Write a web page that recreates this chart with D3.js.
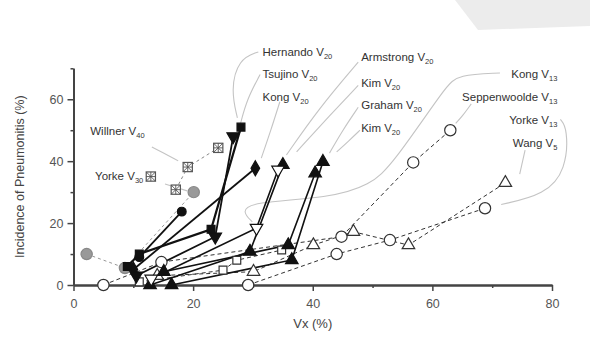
<!DOCTYPE html>
<html><head><meta charset="utf-8">
<script src="https://cdn.jsdelivr.net/npm/d3@7"></script>
<style>
body{margin:0;background:#fff}
svg{display:block}
text{font-family:"Liberation Sans",Arial,sans-serif}
</style>
</head><body>
<svg id="c" width="590" height="355"></svg>
<script>
// ---------- data (x = Vx %, y = incidence %) ----------
const xTicks = [0, 20, 40, 60, 80];
const yTicks = [0, 20, 40, 60];
const xMinor = [10, 30, 50, 70];
const yMinor = [10, 30, 50, 70];

const hernandoV20 = [[9, 6], [11, 10], [23, 18], [28, 51]];
const tsujinoV20 = [[10.5, 3], [23.7, 15.6], [26.7, 48]];
const kongV20 = [[10, 5], [30.4, 37.7]];
const filledCircleV20 = [[11, 9], [18.1, 23.7]];
const armstrongV20 = [[13, 2], [30.6, 18.4], [34.2, 37.2]];
const kimV20a = [[12.8, 0], [29.5, 10.8], [35, 38.8]];
const grahamV20 = [[15.1, 4.3], [35.9, 12.9], [40.4, 36.1]];
const kimV20b = [[16.4, 0], [36.5, 8.1], [41.7, 39.8]];

const kongV13 = [[5, 0], [14.7, 7.4], [44.8, 15.6], [56.8, 39.6], [63, 50]];
const seppenwooldeV13 = [[11, 1], [25, 4.8], [27.3, 8], [34.8, 11.3]];
const yorkeV13 = [[14, 3], [30.1, 4.3], [40.1, 12.9], [46.8, 17.2], [56, 12.9], [72.2, 33]];
const wangV5 = [[29.2, 0], [44, 10], [52.9, 14.5], [68.8, 24.8]];

const willnerV40 = [[17.1, 30.8], [19.1, 38.1], [24.2, 44.3]];
const yorkeV30 = [[2.2, 10], [8.6, 5.5], [20.1, 30]];

// label texts
const labelMain = ["Hernando V", "Tsujino V", "Kong V", "Armstrong V", "Kim V", "Graham V", "Kim V",
                   "Kong V", "Seppenwoolde V", "Yorke V", "Wang V", "Willner V", "Yorke V"];
const labelSub = ["20", "20", "20", "20", "20", "20", "20", "13", "13", "13", "5", "40", "30"];

// ---------- layout ----------
const svg = d3.select("#c");
const x = d3.scaleLinear().domain([0, 80]).range([73.5, 552]);
const y = d3.scaleLinear().domain([0, 70]).range([285, 68.3]);

// faint gray blob top-right (scan artefact)
svg.append("path").attr("d", "M455,0 L590,0 L590,26 L478,30 Z").attr("fill", "#ececec");

// label anchor positions in data units
const labelPos = [[31.6, 75.3], [31.6, 68.2], [31.6, 60.7], [48.1, 73.5], [48.1, 65.4], [48.1, 58.2], [48.1, 50.7],
                  [80.9, 68.2], [80.9, 60.7], [80.9, 53.3], [80.9, 45.9], [2.8, 49.8], [3.6, 35.2]];
const labelAnchor = ["start", "start", "start", "start", "start", "start", "start",
                     "end", "end", "end", "end", "start", "start"];

// leader lines in data units
const leaders = [
  [[30.9, 75.3], [27.6, 73], [26.3, 63], [27.4, 54]],
  [[31.2, 68], [29, 60], [27.9, 52]],
  [[34.5, 59.2], [33, 50], [31.4, 41]],
  [[47.6, 72], [41, 57], [35.6, 42]],
  [[47.6, 64.5], [42, 53], [37.3, 43]],
  [[47.6, 57.4], [45, 50], [42.8, 42.6]],
  [[47.9, 50], [46, 46.5], [44, 43]],
  [[71.3, 68.5], [64.3, 67.9], [62.4, 64.6], [53.3, 38.8], [49.6, 32.3], [42.9, 28.1], [29.5, 26.8], [28.2, 23.6], [29.9, 20.4]],
  [[66.5, 58.5], [65, 54.5], [63.9, 52.2]],
  [[81.4, 53.5], [82.6, 50.7], [82.4, 37.2], [78.8, 29.1], [71.5, 26]],
  [[75.5, 43.6], [74.6, 35.8]],
  [[13.1, 44.6], [15.5, 42.2], [17.5, 40.1]],
  [[15.3, 32.6], [19, 30.4]]
];

const lineGen = d3.line().x(d => x(d[0])).y(d => y(d[1]));
const curveGen = d3.line().x(d => x(d[0])).y(d => y(d[1])).curve(d3.curveBasis);

// leaders
svg.append("g").selectAll("path").data(leaders).join("path")
  .attr("d", d => curveGen(d)).attr("fill", "none")
  .attr("stroke", "#c4c4c4").attr("stroke-width", 1.1);

// ---------- axes ----------
const axisColor = "#444";
const gx = svg.append("g").attr("transform", `translate(0,${y(0)})`)
  .call(d3.axisBottom(x).tickValues(xTicks).tickSize(6).tickSizeOuter(0).tickPadding(8));
const gxm = svg.append("g").attr("transform", `translate(0,${y(0)})`)
  .call(d3.axisBottom(x).tickValues(xMinor).tickSize(3).tickFormat("").tickSizeOuter(0));
const gy = svg.append("g").attr("transform", `translate(${x(0)},0)`)
  .call(d3.axisLeft(y).tickValues(yTicks).tickSize(6).tickSizeOuter(0).tickPadding(4));
const gym = svg.append("g").attr("transform", `translate(${x(0)},0)`)
  .call(d3.axisLeft(y).tickValues(yMinor).tickSize(3).tickFormat("").tickSizeOuter(0));
[gx, gxm, gy, gym].forEach(g => {
  g.select(".domain").attr("stroke", axisColor).attr("stroke-width", 2);
  g.selectAll(".tick line").attr("stroke", axisColor).attr("stroke-width", 1.5);
  g.selectAll(".tick text").attr("fill", "#555").style("font-size", "12.5px")
    .style("font-family", '"Liberation Sans",Arial,sans-serif');
});

svg.append("text").attr("x", x(40)).attr("y", 328).attr("text-anchor", "middle")
  .attr("fill", "#444").style("font-size", "13px").text("Vx (%)");
svg.append("text").attr("transform", `translate(24,${y(35)}) rotate(-90)`).attr("text-anchor", "middle")
  .attr("fill", "#444").style("font-size", "12.5px").text("Incidence of Pneumonitis (%)");

// ---------- series ----------
const series = [
  {d: wangV5, sym: "circle", fill: "#fff", stroke: "#333", dash: "4,3", w: 1},
  {d: yorkeV13, sym: "triangle", fill: "#fff", stroke: "#333", dash: "4,3", w: 1},
  {d: seppenwooldeV13, sym: "square", fill: "#fff", stroke: "#333", dash: "4,3", w: 1},
  {d: kongV13, sym: "circle", fill: "#fff", stroke: "#333", dash: "4,3", w: 1},
  {d: yorkeV30, sym: "circle", fill: "#999", stroke: "#888", dash: "3,3", w: 1, lineStroke: "#999"},
  {d: willnerV40, sym: "xsquare", fill: "#fff", stroke: "#555", dash: "3,3", w: 1, lineStroke: "#888"},
  {d: kimV20b, sym: "triangle", fill: "#111", stroke: "#111", dash: null, w: 1.6},
  {d: grahamV20, sym: "triangle", fill: "#111", stroke: "#111", dash: null, w: 1.6},
  {d: kimV20a, sym: "triangle", fill: "#111", stroke: "#111", dash: null, w: 1.6},
  {d: armstrongV20, sym: "triangleDown", fill: "#fff", stroke: "#111", dash: null, w: 1.6},
  {d: filledCircleV20, sym: "circle", fill: "#111", stroke: "#111", dash: null, w: 1.8, size: 60},
  {d: kongV20, sym: "diamond", fill: "#111", stroke: "#111", dash: null, w: 1.8},
  {d: tsujinoV20, sym: "triangleDown", fill: "#111", stroke: "#111", dash: null, w: 1.8},
  {d: hernandoV20, sym: "square", fill: "#111", stroke: "#111", dash: null, w: 2.2}
];

const lines = svg.append("g");
series.forEach(s => {
  lines.append("path").attr("d", lineGen(s.d)).attr("fill", "none")
    .attr("stroke", s.lineStroke || s.stroke).attr("stroke-width", s.w)
    .attr("stroke-dasharray", s.dash);
});

const symbolMap = {
  circle: d3.symbolCircle, triangle: d3.symbolTriangle, triangleDown: d3.symbolTriangle,
  square: d3.symbolSquare, diamond: d3.symbolDiamond
};
const sizeMap = {circle: 100, triangle: 68, triangleDown: 68, square: 62, diamond: 65, xsquare: 85};

const marks = svg.append("g");
series.forEach(s => {
  const g = marks.append("g");
  s.d.forEach(p => {
    const t = `translate(${x(p[0])},${y(p[1])})`;
    const size = s.size || sizeMap[s.sym];
    if (s.sym === "xsquare") {
      const h = Math.sqrt(size) / 2;
      const gg = g.append("g").attr("transform", t);
      gg.append("rect").attr("x", -h).attr("y", -h).attr("width", 2 * h).attr("height", 2 * h)
        .attr("fill", s.fill).attr("stroke", s.stroke).attr("stroke-width", 1.2);
      gg.append("path").attr("d", `M${-h},${-h}L${h},${h}M${h},${-h}L${-h},${h}M0,${-h}L0,${h}M${-h},0L${h},0`)
        .attr("stroke", s.stroke).attr("stroke-width", 0.9);
    } else {
      g.append("path").attr("d", d3.symbol().type(symbolMap[s.sym]).size(size)())
        .attr("transform", t + (s.sym === "triangleDown" ? " rotate(180)" : ""))
        .attr("fill", s.fill).attr("stroke", s.stroke).attr("stroke-width", 1.2);
    }
  });
});

// ---------- labels ----------
const lg = svg.append("g");
labelMain.forEach((m, i) => {
  const t = lg.append("text").attr("x", x(labelPos[i][0])).attr("y", y(labelPos[i][1]))
    .attr("dy", "0.35em").attr("text-anchor", labelAnchor[i])
    .attr("fill", "#333").style("font-size", "11.5px");
  t.append("tspan").text(m);
  t.append("tspan").attr("dy", "3").style("font-size", "7.5px").text(labelSub[i]);
});

// legend marker after "Yorke V30"
(function () {
  const node = lg.selectAll("text").nodes()[12];
  const bb = node.getBBox();
  const h = Math.sqrt(sizeMap.xsquare) / 2;
  const gg = lg.append("g").attr("transform", `translate(${bb.x + bb.width + 3 + h},${bb.y + bb.height / 2 - 1})`);
  gg.append("rect").attr("x", -h).attr("y", -h).attr("width", 2 * h).attr("height", 2 * h)
    .attr("fill", "#fff").attr("stroke", "#555").attr("stroke-width", 1.2);
  gg.append("path").attr("d", `M${-h},${-h}L${h},${h}M${h},${-h}L${-h},${h}M0,${-h}L0,${h}M${-h},0L${h},0`)
    .attr("stroke", "#555").attr("stroke-width", 0.9);
})();
</script>
</body></html>
